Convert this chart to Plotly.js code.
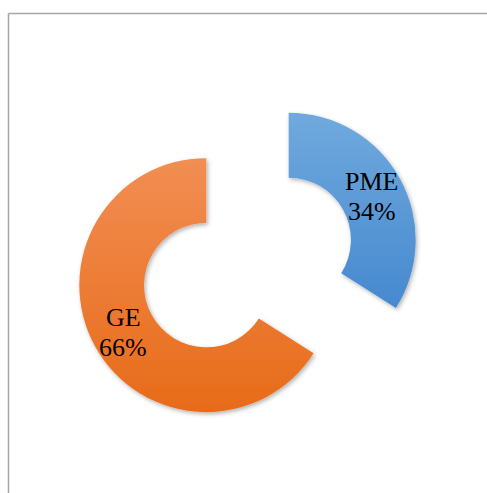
<!DOCTYPE html>
<html>
<head>
<meta charset="utf-8">
<script src="https://cdn.plot.ly/plotly-3.0.1.min.js"></script>
<style>
  html, body { margin: 0; padding: 0; background: #fff; }
</style>
</head>
<body>
<div id="myDiv" style="width:487px;height:493px;"></div>
<script>
// Data
const labels = ['PME', 'GE'];
const values = [34, 66];
const sliceColors = ['#5b9bd5', '#ee7d31'];
// gradient ends (top, bottom) for the Excel-like fill
const gradTop = ['#70a9dd', '#f28e53'];
const gradBottom = ['#4689cf', '#e76b19'];
const pulls = [0.37, 0.37];

const W = 487, H = 493;
const HOLE = 0.49;
const domX = [73.5 / W, 421.5 / W];
const domY = [1 - 436.5 / H, 1 - 88.5 / H];

var trace = {
    type: 'pie',
    labels: labels,
    values: values,
    sort: false,
    direction: 'clockwise',
    rotation: 0,
    hole: HOLE,
    pull: pulls,
    textinfo: 'none',
    marker: { colors: sliceColors, line: { width: 0 } },
    domain: { x: domX, y: domY },
    showlegend: false
};

// Labels placed at each slice's mid angle, in the middle of the ring
// (same geometry Plotly uses: r = box / (2 + 2*maxPull), pull along mid angle)
const boxW = (domX[1] - domX[0]) * W, boxH = (domY[1] - domY[0]) * H;
const r = Math.min(boxW, boxH) / (2 + 2 * Math.max(...pulls));
const cx = (domX[0] + domX[1]) / 2 * W;
const cy = (1 - (domY[0] + domY[1]) / 2) * H;
const total = values.reduce((a, b) => a + b, 0);
const font = { family: 'Liberation Serif, Times New Roman, serif', size: 26, color: '#000' };

var annotations = [];
let cum = 0;
values.forEach((v, i) => {
    const mid = (cum + v / 2) / total * 2 * Math.PI;
    cum += v;
    const dist = pulls[i] * r + r * (1 + HOLE) / 2;
    const px = cx + Math.sin(mid) * dist;
    const py = cy - Math.cos(mid) * dist + 2;
    const pct = Math.round(v / total * 100) + '%';
    [[labels[i], 15], [pct, -15]].forEach(([t, shift]) => {
        annotations.push({
            xref: 'paper', yref: 'paper', x: px / W, y: 1 - py / H,
            xanchor: 'center', yanchor: 'middle', yshift: shift,
            text: t, showarrow: false, font: font
        });
    });
});

var layout = {
    width: W,
    height: H,
    margin: { l: 0, r: 0, t: 0, b: 0 },
    paper_bgcolor: '#fff',
    showlegend: false,
    annotations: annotations,
    shapes: [
        // chart frame (top and left edges visible)
        { type: 'line', xref: 'paper', yref: 'paper', x0: 8.5 / W, x1: 1.05, y0: 1 - 13.5 / H, y1: 1 - 13.5 / H,
          line: { color: '#a6a6a6', width: 1.5 } },
        { type: 'line', xref: 'paper', yref: 'paper', x0: 8.5 / W, x1: 8.5 / W, y0: -0.05, y1: 1 - 13.5 / H,
          line: { color: '#a6a6a6', width: 1.5 } }
    ]
};

Plotly.newPlot('myDiv', [trace], layout, { displayModeBar: false, staticPlot: true }).then(gd => {
    // vertical gradient + soft shadow on the slices
    const svg = gd.querySelector('svg.main-svg');
    const ns = 'http://www.w3.org/2000/svg';
    const defs = document.createElementNS(ns, 'defs');
    let html = '<filter id="shd" x="-20%" y="-20%" width="140%" height="140%">' +
        '<feDropShadow dx="1.5" dy="2" stdDeviation="2" flood-color="#000" flood-opacity="0.3"/></filter>';
    labels.forEach((l, i) => {
        html += '<linearGradient id="grad' + i + '" x1="0" y1="0" x2="0" y2="1">' +
            '<stop offset="0" stop-color="' + gradTop[i] + '"/>' +
            '<stop offset="1" stop-color="' + gradBottom[i] + '"/></linearGradient>';
    });
    defs.innerHTML = html;
    svg.insertBefore(defs, svg.firstChild);
    gd.querySelectorAll('g.slice path.surface').forEach((p, i) => {
        p.style.fill = 'url(#grad' + i + ')';
        p.setAttribute('filter', 'url(#shd)');
    });
});
</script>
</body>
</html>
